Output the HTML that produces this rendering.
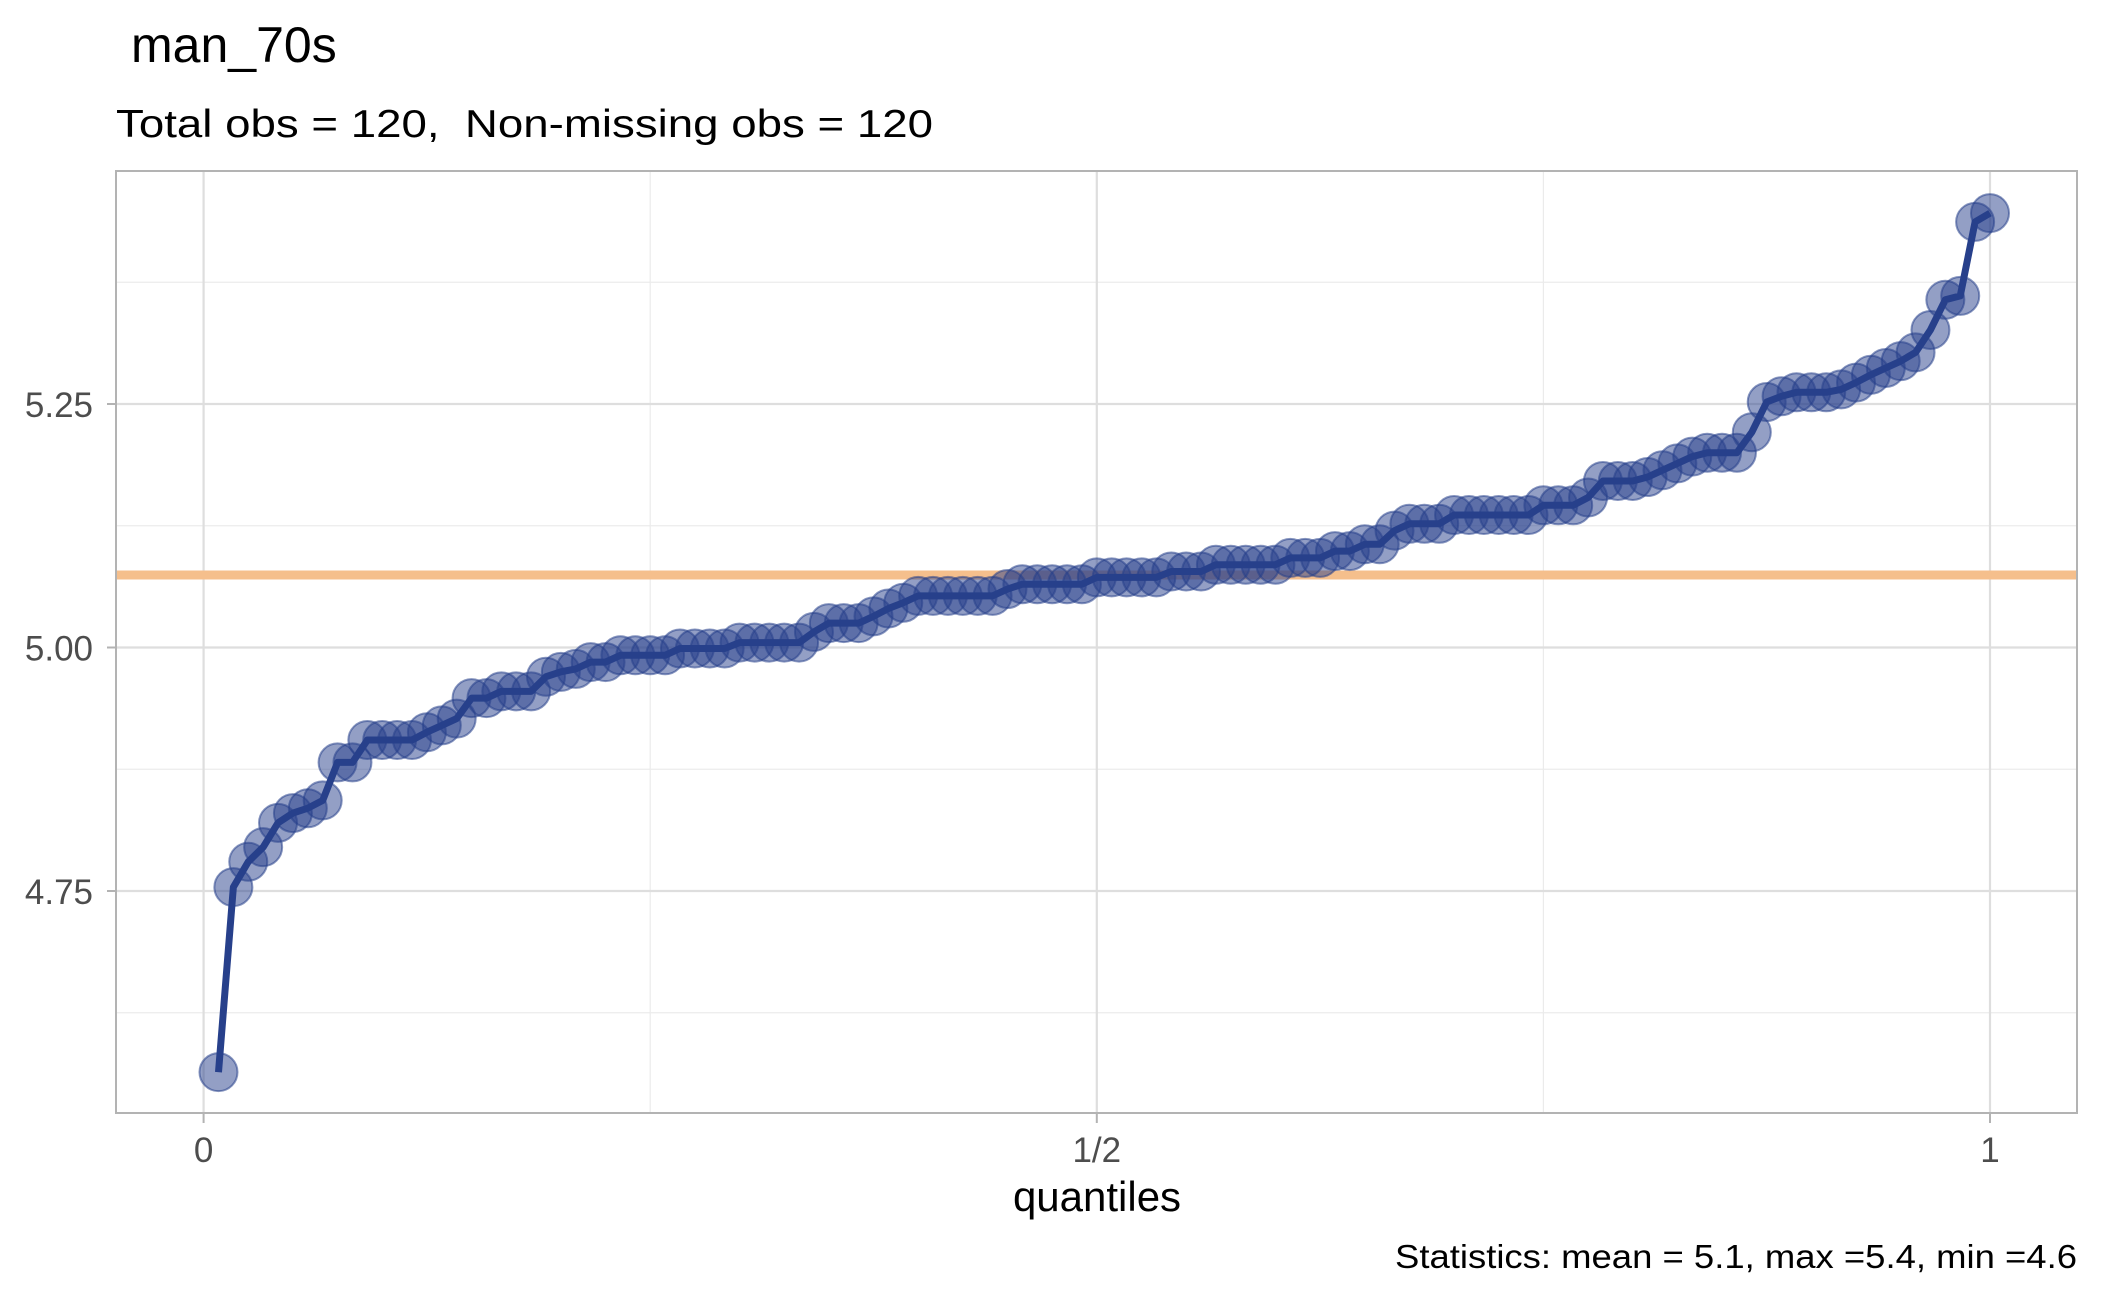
<!DOCTYPE html>
<html><head><meta charset="utf-8"><style>
html,body{margin:0;padding:0;background:#fff;}
svg{display:block;font-family:"Liberation Sans",sans-serif;}
</style></head><body>
<svg id="chart" width="2102" height="1299" viewBox="0 0 2102 1299" xmlns="http://www.w3.org/2000/svg">
<rect x="0" y="0" width="2102" height="1299" fill="#fff"/>
<text x="131" y="62" font-size="50" fill="#000">man_70s</text>
<text x="116" y="137" font-size="39" fill="#000" textLength="817" lengthAdjust="spacingAndGlyphs">Total obs = 120,&#160; Non-missing obs = 120</text>
<g id="grid"></g>
<g id="marks"></g>
<rect x="116" y="171" width="1961" height="942" fill="none" stroke="#b3b3b3" stroke-width="2"/>
<g id="axes"></g>
<text x="1097" y="1211" font-size="42" text-anchor="middle" fill="#000">quantiles</text>
<text x="2077" y="1268" font-size="33" text-anchor="end" fill="#000" textLength="682" lengthAdjust="spacingAndGlyphs">Statistics: mean = 5.1, max =5.4, min =4.6</text>
</svg>
<script>
const values = [4.564,4.754,4.78,4.795,4.82,4.83,4.835,4.843,4.882,4.882,
4.905,4.905,4.905,4.905,4.913,4.92,4.927,4.948,4.948,4.955,
4.955,4.955,4.97,4.975,4.978,4.985,4.985,4.992,4.992,4.992,
4.992,4.999,4.999,4.999,4.999,5.005,5.005,5.005,5.005,5.005,
5.016,5.025,5.025,5.025,5.032,5.04,5.046,5.053,5.053,5.053,
5.053,5.053,5.053,5.06,5.065,5.065,5.065,5.065,5.065,5.072,
5.072,5.072,5.072,5.072,5.078,5.078,5.078,5.085,5.085,5.085,
5.085,5.085,5.092,5.092,5.092,5.099,5.099,5.106,5.106,5.12,
5.127,5.127,5.127,5.136,5.136,5.136,5.136,5.136,5.136,5.146,
5.146,5.146,5.154,5.171,5.171,5.171,5.175,5.182,5.189,5.196,
5.2,5.2,5.2,5.221,5.252,5.258,5.262,5.262,5.262,5.265,
5.272,5.28,5.287,5.294,5.303,5.326,5.357,5.361,5.437,5.446];
const meanValue = 5.0744;
const yMajorTicks = [4.75, 5.00, 5.25];
const yMajorLabels = ["4.75", "5.00", "5.25"];
const yMinorTicks = [4.625, 4.875, 5.125, 5.375];
const xMajorTicks = [0, 0.5, 1];
const xMajorLabels = ["0", "1/2", "1"];
const xMinorTicks = [0.25, 0.75];

const NS = "http://www.w3.org/2000/svg";
const PL = 116, PR = 2077, PT = 171, PB = 1113;
function xs(q){ return 203.6 + q * (1990 - 203.6); }
function ys(v){ return 647.5 - (v - 5.0) * 974; }
function mk(tag, attrs, parent){ const e = document.createElementNS(NS, tag); for (const k in attrs) e.setAttribute(k, attrs[k]); parent.appendChild(e); return e; }

const grid = document.getElementById('grid');
const marks = document.getElementById('marks');
const axes = document.getElementById('axes');

yMinorTicks.forEach(v => {
  const l = mk('line', {x1: PL, x2: PR, y1: ys(v), y2: ys(v), stroke: '#ebebeb', 'stroke-width': 1.2}, grid);
  
  
});
xMinorTicks.forEach(q => {
  const l = mk('line', {x1: xs(q), x2: xs(q), y1: PT, y2: PB, stroke: '#ebebeb', 'stroke-width': 1.2}, grid);
  
  
});
yMajorTicks.forEach((v, i) => {
  const l = mk('line', {x1: PL, x2: PR, y1: ys(v), y2: ys(v), stroke: '#dedede', 'stroke-width': 2.2}, grid);
  
  
  const t = mk('line', {x1: PL - 9, x2: PL, y1: ys(v), y2: ys(v), stroke: '#b3b3b3', 'stroke-width': 2}, axes);
  
  
  const tx = mk('text', {x: 93, y: ys(v) + 13, 'font-size': 35, 'text-anchor': 'end', fill: '#4d4d4d'}, axes);
  tx.textContent = yMajorLabels[i];
  
  
});
xMajorTicks.forEach((q, i) => {
  const l = mk('line', {x1: xs(q), x2: xs(q), y1: PT, y2: PB, stroke: '#dedede', 'stroke-width': 2.2}, grid);
  
  
  const t = mk('line', {x1: xs(q), x2: xs(q), y1: PB, y2: PB + 10, stroke: '#b3b3b3', 'stroke-width': 2}, axes);
  
  
  const tx = mk('text', {x: xs(q), y: 1162, 'font-size': 35, 'text-anchor': 'middle', fill: '#4d4d4d'}, axes);
  tx.textContent = xMajorLabels[i];
  
  
});

const mean = mk('line', {x1: PL, x2: PR, y1: ys(meanValue), y2: ys(meanValue), stroke: '#f5bf8c', 'stroke-width': 9}, marks);



const n = values.length;
let d = '';
values.forEach((v, i) => {
  const cx = xs((i + 1) / n), cy = ys(v);
  const c = mk('circle', {cx: cx, cy: cy, r: 19, fill: 'rgba(39,64,139,0.5)', stroke: 'rgba(39,64,139,0.55)', 'stroke-width': 2}, marks);
  
  
  d += (i ? 'L' : 'M') + cx.toFixed(2) + ' ' + cy.toFixed(2);
});
const path = mk('path', {d: d, fill: 'none', stroke: '#27408b', 'stroke-width': 7, 'stroke-linejoin': 'round'}, marks);


</script>
</body></html>
